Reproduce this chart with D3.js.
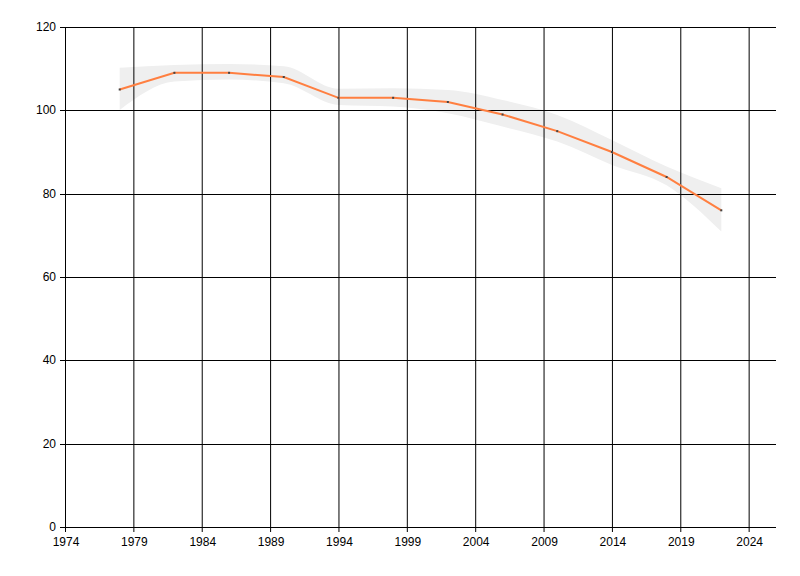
<!DOCTYPE html>
<html><head><meta charset="utf-8">
<script src="https://cdn.jsdelivr.net/npm/d3@7"></script>
<style>body{margin:0;background:#fff}svg{display:block}text{font-family:"Liberation Sans",Arial,sans-serif;font-size:12px;fill:#000}</style>
</head><body>
<script>
const years = [1978,1982,1986,1990,1994,1998,2002,2006,2010,2014,2018,2022];
const values = [105,109,109,108,103,103,102,99,95,90,84,76];
const upper = [110.2,110.9,111.1,110.6,105.2,105.3,104.9,102.5,98.9,92.9,86.5,81.3];
const lower = [100.1,106.9,107.4,106.5,101.3,100.9,99.3,96.1,92.5,86.9,82.0,70.9];
const xTicks = [1974,1979,1984,1989,1994,1999,2004,2009,2014,2019,2024];
const yTicks = [0,20,40,60,80,100,120];

const W=800,H=576,L=65,R=776,T=27,B=527;
const svg=d3.select("body").append("svg").attr("width",W).attr("height",H);
const x=d3.scaleLinear().domain([1974,2026]).range([L,R]);
const y=d3.scaleLinear().domain([0,120]).range([B,T]);

// band
const band=d3.area().x((d,i)=>x(years[i])).y0((d,i)=>y(lower[i])).y1((d,i)=>y(upper[i])).curve(d3.curveMonotoneX);
svg.append("path").datum(years).attr("d",band).attr("fill","#efefef");

// grid
svg.append("g").selectAll("line").data(xTicks).join("line")
 .attr("x1",d=>x(d)+0.5).attr("x2",d=>x(d)+0.5).attr("y1",T).attr("y2",B+5).attr("stroke","#000");
svg.append("g").selectAll("line").data(yTicks).join("line")
 .attr("x1",L-5).attr("x2",R).attr("y1",d=>Math.round(y(d))+0.5).attr("y2",d=>Math.round(y(d))+0.5).attr("stroke","#000");

// labels
svg.append("g").selectAll("text").data(yTicks).join("text")
 .attr("x",L-9).attr("y",d=>y(d)+4).attr("text-anchor","end").text(d=>d);
svg.append("g").selectAll("text").data(xTicks).join("text")
 .attr("x",d=>x(d)+1).attr("y",B+19).attr("text-anchor","middle").text(d=>d);

// line
const line=d3.line().x((d,i)=>x(years[i])).y((d,i)=>y(values[i]));
svg.append("path").datum(years).attr("d",line).attr("fill","none").attr("stroke","#ff7f40").attr("stroke-width",2);
svg.append("g").selectAll("rect").data(years).join("rect")
 .attr("x",(d,i)=>x(d)-1).attr("y",(d,i)=>y(values[i])-1).attr("width",2).attr("height",2).attr("fill","#444");
</script>
</body></html>
